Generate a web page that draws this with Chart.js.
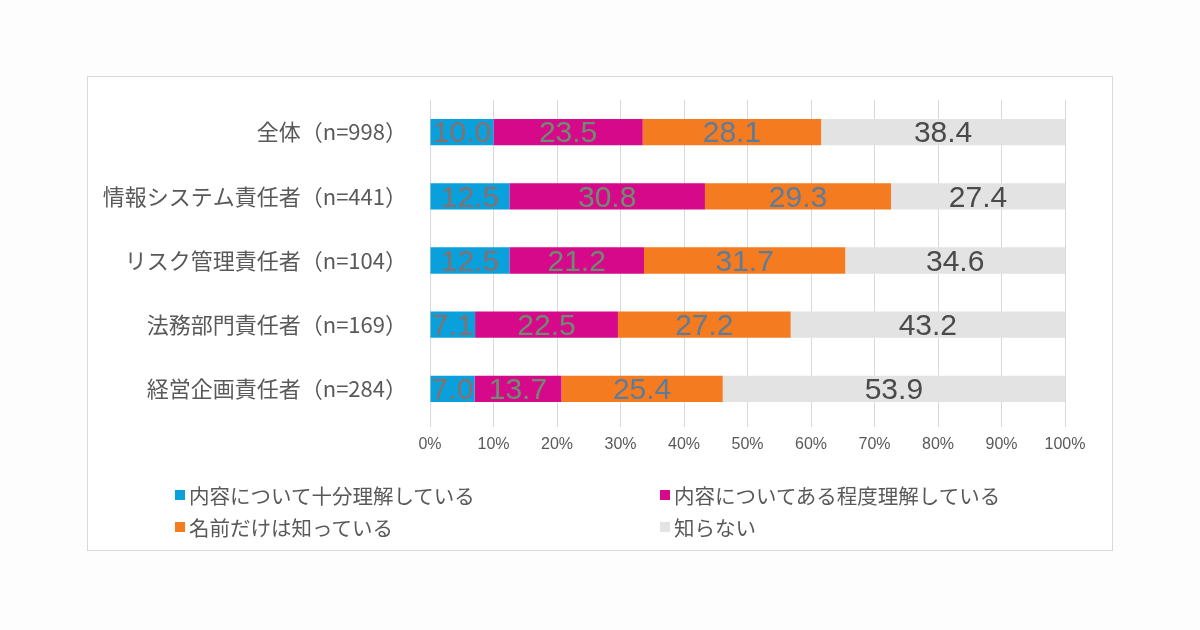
<!DOCTYPE html>
<html lang="ja">
<head>
<meta charset="utf-8">
<script src="https://cdn.jsdelivr.net/npm/chart.js@4/dist/chart.umd.min.js"></script>
<style>
  body { margin: 0; width: 1200px; height: 630px; background: #fdfdfd; position: relative; overflow: hidden;
         font-family: "Noto Sans CJK JP", "Liberation Sans", sans-serif; }
  #frame { position: absolute; left: 87px; top: 76px; width: 1024px; height: 473px;
           border: 1px solid #d9d9d9; background: #fff; }
  #wrap { position: absolute; left: 0; top: 0; width: 1200px; height: 630px; }
  #legend { position: absolute; left: 175px; top: 482px; width: 900px;
            display: grid; grid-template-columns: 485px 400px; row-gap: 7px;
            font-size: 20.5px; color: #595959; }
  #legend div { display: flex; align-items: center; height: 25px; }
  #legend span.box { display: inline-block; width: 10px; height: 10px; margin-right: 4px; }
</style>
</head>
<body>
<div id="frame"></div>
<div id="wrap"><canvas id="chart"></canvas></div>
<div id="legend"></div>
<script>
// Categories and series (percent)
const categories = ['全体（n=998）', '情報システム責任者（n=441）', 'リスク管理責任者（n=104）', '法務部門責任者（n=169）', '経営企画責任者（n=284）'];
const seriesNames = ['内容について十分理解している', '内容についてある程度理解している', '名前だけは知っている', '知らない'];
const fullyUnderstand = [10.0, 12.5, 12.5, 7.1, 7.0];
const somewhatUnderstand = [23.5, 30.8, 21.2, 22.5, 13.7];
const nameOnly = [28.1, 29.3, 31.7, 27.2, 25.4];
const dontKnow = [38.4, 27.4, 34.6, 43.2, 53.9];
const xTicks = [0, 10, 20, 30, 40, 50, 60, 70, 80, 90, 100];

const barColors = ['#0aa0dc', '#d5098a', '#f47b20', '#e3e3e4'];
const labelColors = ['#86706e', '#6f8c72', '#5e7b98', '#4a4a4a'];
const allSeries = [fullyUnderstand, somewhatUnderstand, nameOnly, dontKnow];

// draws value labels in the middle of each bar segment
const barLabels = {
    id: 'barLabels',
    afterDatasetsDraw(chart) {
        const ctx = chart.ctx;
        ctx.save();
        ctx.font = '30px "Liberation Sans", Arial, sans-serif';
        ctx.textAlign = 'center';
        ctx.textBaseline = 'middle';
        chart.data.datasets.forEach((ds, i) => {
            chart.getDatasetMeta(i).data.forEach((bar, j) => {
                const p = bar.getProps(['x', 'y', 'base']);
                ctx.fillStyle = labelColors[i];
                ctx.fillText(ds.data[j].toFixed(1), (p.x + p.base) / 2, p.y + 2);
            });
        });
        ctx.restore();
    }
};

const datasets = allSeries.map((values, i) => ({
    label: seriesNames[i],
    data: values,
    backgroundColor: barColors[i],
    borderWidth: 0,
    barPercentage: 0.41,
    categoryPercentage: 1.0
}));

new Chart(document.getElementById('chart'), {
    type: 'bar',
    data: { labels: categories, datasets: datasets },
    options: {
        indexAxis: 'y',
        responsive: true,
        maintainAspectRatio: false,
        animation: false,
        layout: { padding: { left: 0, right: 135, top: 100, bottom: 169 } },
        plugins: {
            legend: { display: false },
            tooltip: { enabled: false }
        },
        scales: {
            x: {
                stacked: true,
                min: 0,
                max: 100,
                afterBuildTicks: axis => { axis.ticks = xTicks.map(v => ({ value: v })); },
                afterFit: axis => { axis.height = 40; },
                border: { display: false },
                grid: { color: '#d9d9d9', lineWidth: 1, tickLength: 6, drawTicks: true },
                ticks: {
                    padding: 8,
                    color: '#595959',
                    font: { size: 16, family: '"Liberation Sans", Arial, sans-serif' },
                    callback: v => v + '%'
                }
            },
            y: {
                stacked: true,
                afterFit: axis => { axis.width = 430; },
                border: { display: true, color: '#d9d9d9' },
                grid: { display: false, drawTicks: false },
                ticks: {
                    padding: 23,
                    color: '#595959',
                    font: { size: 22, family: '"Noto Sans CJK JP", "Liberation Sans", sans-serif' }
                }
            }
        }
    },
    plugins: [barLabels]
});

// legend in two columns, like the original
const legendEl = document.getElementById('legend');
[0, 1, 2, 3].forEach(i => {
    const item = document.createElement('div');
    item.innerHTML = `<span class="box" style="background:${barColors[i]}"></span>${seriesNames[i]}`;
    legendEl.appendChild(item);
});
</script>
</body>
</html>
